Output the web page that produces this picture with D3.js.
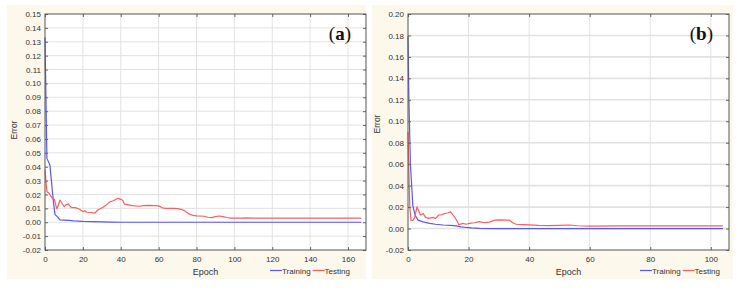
<!DOCTYPE html>
<html><head><meta charset="utf-8">
<script src="https://cdn.jsdelivr.net/npm/d3@7/dist/d3.min.js"></script>
<style>
html,body{margin:0;padding:0;background:#fff;}
svg{display:block;font-family:"Liberation Sans",Arial,sans-serif;}
</style></head>
<body>
<svg id="c" width="740" height="288"></svg>
<script>
// ---- Data: panel (a) ----
const trainEpochA = [0, 1, 2, 2.6, 3.5, 4.5, 5.3, 6.5, 7.9, 10, 13, 15, 20, 25, 30, 35, 40, 167];
const trainValA   = [0.133, 0.046, 0.043, 0.041, 0.028, 0.014, 0.0055, 0.004, 0.0017, 0.0015, 0.0013, 0.001, 0.0006, 0.0004, 0.0003, 0.0001, 0, 0];
const testEpochA  = [0, 1, 2, 3, 4, 5, 6.2, 7, 7.9, 9, 10.2, 11, 12.3, 13, 14, 16, 18, 20, 21, 22, 24, 26.4, 28, 30, 32, 34, 36, 38.5, 40, 41, 42, 44, 46, 50, 52, 55, 58, 60, 62, 64, 68, 70, 72, 74, 76, 78, 80, 84, 86, 88, 90, 92, 94, 96, 98, 100, 104, 106, 110, 167];
const testValA    = [0.038, 0.022, 0.021, 0.019, 0.017, 0.0165, 0.0096, 0.012, 0.016, 0.0135, 0.0113, 0.0125, 0.0132, 0.012, 0.0105, 0.0105, 0.0095, 0.0077, 0.0082, 0.0072, 0.007, 0.0066, 0.009, 0.0102, 0.012, 0.0145, 0.0155, 0.0173, 0.0165, 0.0158, 0.013, 0.0125, 0.012, 0.0115, 0.012, 0.0122, 0.012, 0.0118, 0.0104, 0.01, 0.01, 0.0098, 0.0093, 0.008, 0.006, 0.005, 0.0046, 0.0043, 0.0036, 0.0033, 0.004, 0.0045, 0.004, 0.0034, 0.003, 0.003, 0.003, 0.0032, 0.003, 0.003];
const xTicksA = [0, 20, 40, 60, 80, 100, 120, 140, 160];
const yTicksA = [-0.02, -0.01, 0, 0.01, 0.02, 0.03, 0.04, 0.05, 0.06, 0.07, 0.08, 0.09, 0.10, 0.11, 0.12, 0.13, 0.14, 0.15];

// ---- Data: panel (b) ----
const trainEpochB = [0, 0.3, 0.8, 1.6, 2.4, 3.3, 5, 7.2, 9, 11.6, 14, 15.9, 17.5, 19.2, 21, 23.6, 28, 104];
const trainValB   = [0.179, 0.12, 0.06, 0.021, 0.012, 0.0079, 0.0062, 0.0048, 0.004, 0.0033, 0.003, 0.0025, 0.0016, 0.001, 0.0006, 0.0002, 0, 0];
const testEpochB  = [0, 0.3, 0.6, 1.0, 1.65, 2.2, 2.95, 4.1, 5, 5.8, 6.9, 8.2, 9.1, 10.2, 11.3, 12.1, 13.1, 14, 14.9, 16, 16.8, 18.1, 19.2, 20.3, 21.9, 23.6, 25.2, 26.9, 28.6, 30.2, 32.4, 33.5, 34.6, 35.7, 37.9, 40.1, 43, 46.7, 50, 53.3, 56, 60, 70, 80, 90, 104];
const testValB    = [0.09, 0.05, 0.02, 0.0075, 0.0079, 0.01, 0.0203, 0.0126, 0.014, 0.0104, 0.0095, 0.0104, 0.0095, 0.0126, 0.013, 0.014, 0.0145, 0.0157, 0.0126, 0.008, 0.0035, 0.0048, 0.004, 0.0048, 0.0054, 0.0064, 0.0054, 0.006, 0.0079, 0.008, 0.0079, 0.0078, 0.0054, 0.004, 0.0037, 0.0035, 0.003, 0.0028, 0.003, 0.0033, 0.0026, 0.0022, 0.0024, 0.0024, 0.0024, 0.0024];
const xTicksB = [0, 20, 40, 60, 80, 100];
const yTicksB = [-0.02, 0, 0.02, 0.04, 0.06, 0.08, 0.10, 0.12, 0.14, 0.16, 0.18, 0.20];

const seriesNames = ["Training", "Testing"];
const seriesColors = ["#5858f2", "#ff5c5c"];

const svg = d3.select("#c");
const fmt = v => d3.format(".2f")(v).replace("\u2212", "-");

function panel(o) {
  const g = svg.append("g");
  g.append("rect").attr("x", o.bg[0]).attr("y", o.bg[1]).attr("width", o.bg[2]).attr("height", o.bg[3]).attr("fill", "#fdf8ec");
  const x = d3.scaleLinear().domain(o.xDom).range([o.L, o.R]);
  const y = d3.scaleLinear().domain(o.yDom).range([o.B, o.T]);
  g.append("rect").attr("x", o.L).attr("y", o.T).attr("width", o.R - o.L).attr("height", o.B - o.T).attr("fill", "#fff");
  // grid
  g.append("g").selectAll("line").data(o.yTicks.slice(1, -1)).join("line")
    .attr("x1", o.L).attr("x2", o.R).attr("y1", d => y(d)).attr("y2", d => y(d))
    .attr("stroke", "#e2e2e2").attr("stroke-width", o.gw);
  g.append("g").selectAll("line").data(o.xTicks.slice(1)).join("line")
    .attr("y1", o.T).attr("y2", o.B).attr("x1", d => x(d)).attr("x2", d => x(d))
    .attr("stroke", "#e2e2e2").attr("stroke-width", 1);
  // lines
  const line = d3.line().x(d => x(d[0])).y(d => y(d[1]));
  [[o.trE, o.trV, 0], [o.teE, o.teV, 1]].forEach(([e, v, i]) => {
    g.append("path").datum(e.map((d, k) => [d, v[k]])).attr("d", line)
      .attr("fill", "none").attr("stroke", seriesColors[i]).attr("stroke-width", 1.2)
      .attr("stroke-linejoin", "round");
  });
  // axes with inward ticks
  const yl = g.append("g").attr("transform", `translate(${o.L},0)`)
    .call(d3.axisLeft(y).tickValues(o.yTicks).tickFormat(fmt).tickSize(-3).tickPadding(4));
  const yr = g.append("g").attr("transform", `translate(${o.R},0)`)
    .call(d3.axisRight(y).tickValues(o.yTicks).tickFormat("").tickSize(-3));
  const xb = g.append("g").attr("transform", `translate(0,${o.B})`)
    .call(d3.axisBottom(x).tickValues(o.xTicks).tickFormat(d3.format("d")).tickSize(-3).tickPadding(6));
  const xt = g.append("g").attr("transform", `translate(0,${o.T})`)
    .call(d3.axisTop(x).tickValues(o.xTicks).tickFormat("").tickSize(-3));
  [yl, yr, xb, xt].forEach(a => {
    a.select(".domain").remove();
    a.selectAll("line").attr("stroke", "#666");
    a.selectAll("text").attr("fill", "#333").style("font-size", "8px").style("font-family", "'Liberation Sans',Arial,sans-serif");
  });
  g.append("rect").attr("x", o.L).attr("y", o.T).attr("width", o.R - o.L).attr("height", o.B - o.T)
    .attr("fill", "none").attr("stroke", "#555").attr("stroke-width", 1);
  // axis titles
  g.append("text").attr("transform", `translate(${o.eX},${o.eY}) rotate(-90)`).attr("text-anchor", "middle")
    .attr("fill", "#333").style("font-size", "8.5px").text("Error");
  g.append("text").attr("x", (o.L + o.R) / 2).attr("y", 275).attr("text-anchor", "middle")
    .attr("fill", "#333").style("font-size", "9px").text("Epoch");
  // legend
  let lx = o.legX;
  seriesNames.forEach((n, i) => {
    g.append("line").attr("x1", lx).attr("x2", lx + 12).attr("y1", 270.5).attr("y2", 270.5)
      .attr("stroke", seriesColors[i]).attr("stroke-width", 1.2);
    const t = g.append("text").attr("x", lx + 12).attr("y", 274).attr("fill", "#333")
      .style("font-size", "8px").style("font-stretch", "condensed").text(n);
    lx += 12 + t.node().getComputedTextLength() + 2;
  });
  // panel label
  const lab = g.append("text").attr("x", o.labX).attr("y", 40).attr("text-anchor", "end")
    .style("font-family", "'Liberation Serif','DejaVu Serif',serif").style("font-size", "19px").attr("fill", "#111");
  lab.append("tspan").text("(");
  lab.append("tspan").attr("font-weight", "bold").text(o.label);
  lab.append("tspan").text(")");
}

panel({bg: [7, 5, 359, 274], L: 45, R: 366, T: 14, B: 250, xDom: [0, 169.5], yDom: [-0.02, 0.15],
  xTicks: xTicksA, yTicks: yTicksA, trE: trainEpochA, trV: trainValA, teE: testEpochA, teV: testValA,
  gw: 1, eX: 17, eY: 130, legX: 270, labX: 351, label: "a"});
panel({bg: [372, 5, 361, 274], L: 408, R: 729, T: 14, B: 250, xDom: [0, 106], yDom: [-0.02, 0.20],
  xTicks: xTicksB, yTicks: yTicksB, trE: trainEpochB, trV: trainValB, teE: testEpochB, teV: testValB,
  gw: 1.6, eX: 380, eY: 124, legX: 640, labX: 713, label: "b"});
</script>
</body></html>
